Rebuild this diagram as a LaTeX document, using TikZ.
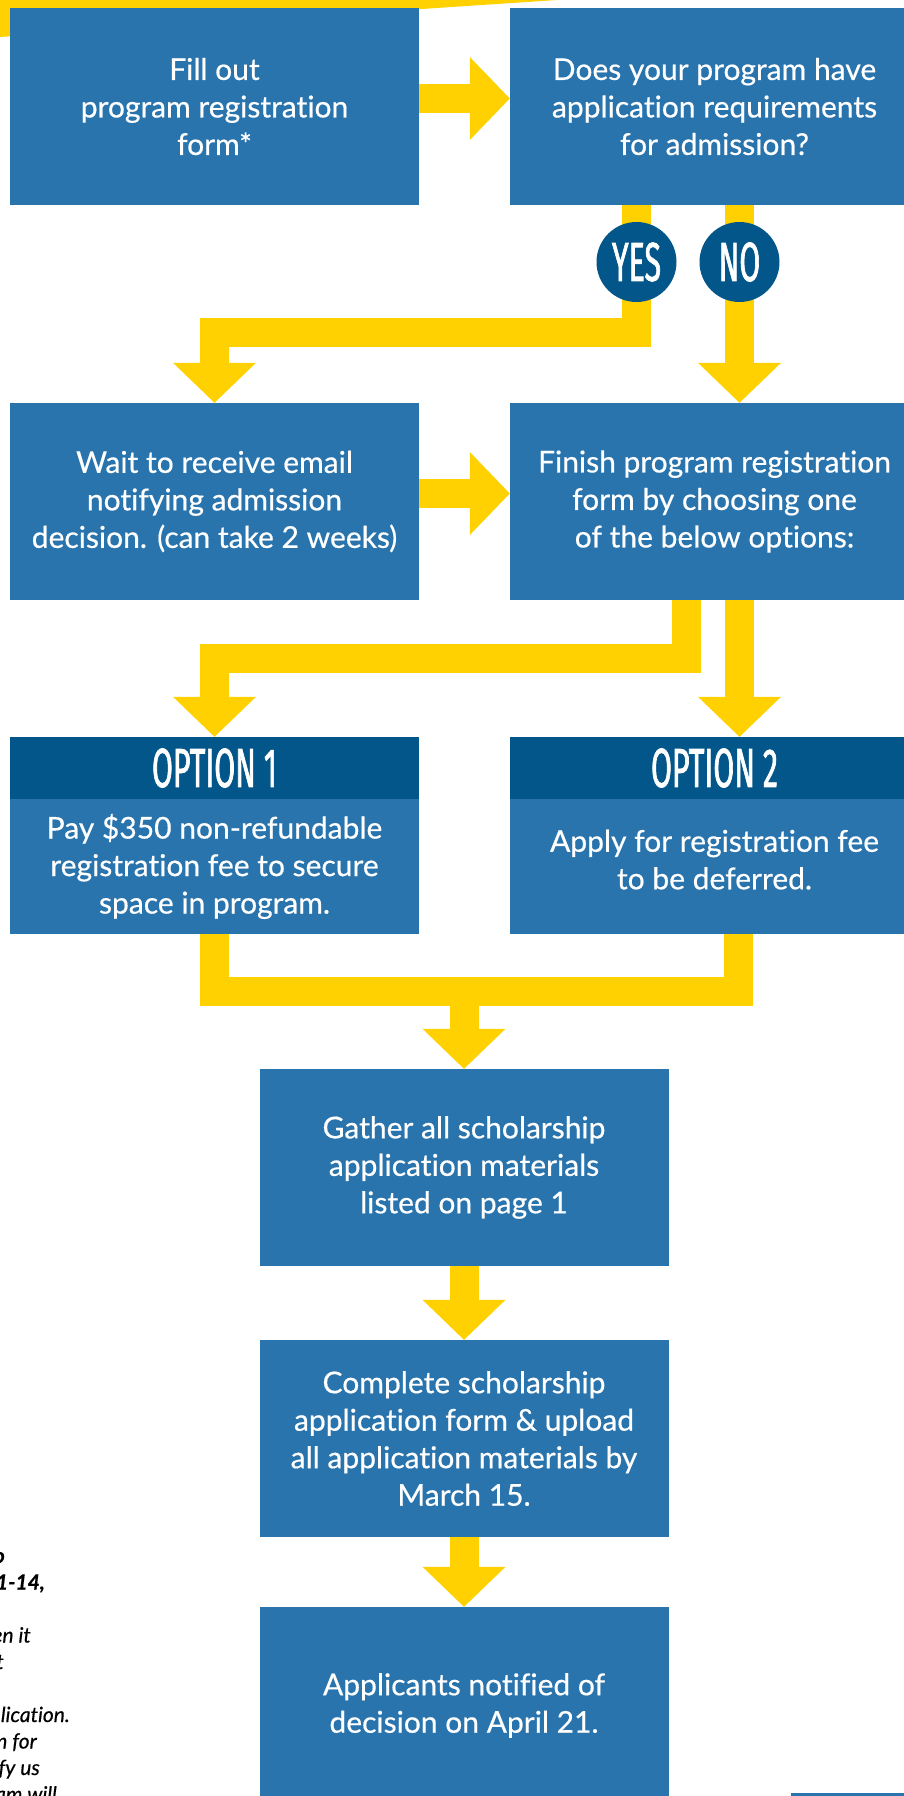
\documentclass[tikz,border=0pt]{standalone}
\usepackage{fontspec}
\setmainfont{Lato}[Ligatures=NoCommon, FakeBold=0.5]
\newfontfamily\condfont[FakeStretch=0.55, FakeBold=1.2]{Fira Sans}
\usetikzlibrary{arrows.meta}
\definecolor{fl_blue}{RGB}{41, 116, 173}
\definecolor{fl_dark}{RGB}{3, 86, 138}
\definecolor{fl_yellow}{RGB}{255, 209, 0}
\tikzstyle{box}=[rectangle,fill=fl_blue,text=white,align=center,inner sep=0pt,
  minimum width=409pt,minimum height=197pt,font=\fontsize{30}{37.5}\selectfont]
\tikzstyle{optbody}=[box,minimum height=135pt]
\tikzstyle{opthead}=[rectangle,fill=fl_dark,text=white,inner sep=0pt,
  minimum width=409pt,minimum height=62pt,font=\condfont\fontsize{55}{55}\selectfont]
\tikzstyle{answer}=[circle,fill=fl_dark,text=white,inner sep=0pt,minimum size=80pt,
  font=\condfont\fontsize{55}{55}\selectfont]
\tikzstyle{flow}=[draw=fl_yellow,line width=29pt,
  -{Triangle[width=83pt,length=40pt,line width=0pt]}]
\tikzstyle{flowbar}=[draw=fl_yellow,line width=29pt]
\tikzstyle{note}=[inner sep=0pt,anchor=base east,font=\itshape\fontsize{21}{26}\selectfont]
\tikzstyle{notebold}=[note,font=\bfseries\itshape\fontsize{21}{26}\selectfont]
\tikzstyle{none}=[]

\begin{document}
\begin{tikzpicture}[x=1pt, y=-1pt]
    \useasboundingbox (0, 0) rectangle (904, 1796);
    \clip (0, 0) rectangle (904, 1796);
    \fill [fl_yellow] (0, 0) -- (557, 0) -- (0, 37) -- cycle;
    \node [style=box] (1) at (214.5, 106.5) {Fill out\\program registration\\form*};
    \node [style=box] (2) at (714.5, 106.5) {Does your program have\\application requirements\\for admission?};
    \node [style=box] (3) at (214.5, 501.5) {Wait to receive email\\notifying admission\\decision. (can take 2 weeks)};
    \node [style=box] (4) at (714.5, 501.5) {Finish program registration\\form by choosing one\\of the below options:};
    \node [style=opthead] (5) at (214.5, 768) {OPTION 1};
    \node [style=optbody] (6) at (214.5, 866.5) {Pay \$350 non-refundable\\registration fee to secure\\space in program.};
    \node [style=opthead] (7) at (714.5, 768) {OPTION 2};
    \node [style=optbody, text depth=14pt] (8) at (714.5, 866.5) {Apply for registration fee\\to be deferred.};
    \node [style=box] (9) at (464, 1167.5) {Gather all scholarship\\application materials\\listed on page 1};
    \node [style=box] (10) at (464, 1438.5) {Complete scholarship\\application form \& upload\\all application materials by\\March 15.};
    \node [style=box] (11) at (464, 1705.5) {Applicants notified of\\decision on April 21.};
    \node [style=none] (12) at (464, 991.5) {};
    \draw [style=flow] ([yshift=8pt]1.east) to ([yshift=8pt]2.west);
    \draw [style=flow] ([xshift=-78pt]2.south) -- ++(0, 127) -| (3.north);
    \draw [style=flow] ([xshift=25pt]2.south) to ([xshift=25pt]4.north);
    \draw [style=flow] ([yshift=8pt]3.east) to ([yshift=8pt]4.west);
    \draw [style=flow] ([xshift=-28pt]4.south) -- ++(0, 58) -| (5.north);
    \draw [style=flow] ([xshift=25pt]4.south) to ([xshift=25pt]7.north);
    \draw [style=flowbar] (6.south) |- (12.center) -| ([xshift=24pt]8.south);
    \draw [style=flow] (12.center) to (9.north);
    \draw [style=flow] (9) to (10);
    \draw [style=flow] (10) to (11);
    \node [style=answer] (13) at (636.5, 262) {YES};
    \node [style=answer] (14) at (739.5, 262) {NO};
    \node [style=notebold] (15) at (5, 1563) {o};
    \node [style=notebold] (16) at (45, 1589.5) {1-14,};
    \node [style=note] (17) at (31, 1642.5) {en it};
    \node [style=note] (18) at (4, 1669) {t};
    \node [style=note] (19) at (70, 1722) {lication.};
    \node [style=note] (20) at (37, 1748.5) {n for};
    \node [style=note] (21) at (40, 1775) {fy us};
    \node [style=note] (22) at (57, 1801.5) {am will};
    \fill [fl_blue] (791, 1793) rectangle (904, 1796);
\end{tikzpicture}
\end{document}
